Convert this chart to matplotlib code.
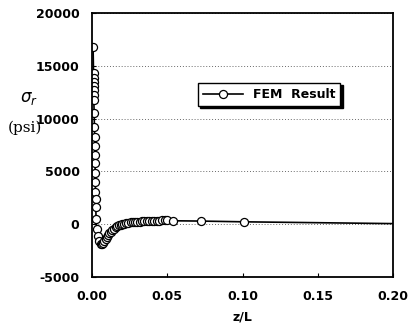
import matplotlib.pyplot as plt

# FEM result: radial stress vs z/L
zL = [0.0007, 0.0010, 0.0010, 0.0010, 0.0011, 0.0011, 0.0012, 0.0012,
      0.0014, 0.0016, 0.0017, 0.0018, 0.0019, 0.0020, 0.0021, 0.0022,
      0.0023, 0.0024, 0.0025, 0.0027, 0.0031, 0.0038, 0.0047, 0.0058,
      0.0066, 0.0074, 0.0082, 0.0090, 0.0098, 0.0107, 0.0116, 0.0125,
      0.0135, 0.0145, 0.0156, 0.0167, 0.0178, 0.0190, 0.0202, 0.0215,
      0.0228, 0.0242, 0.0256, 0.0270, 0.0285, 0.0300, 0.0316, 0.0332,
      0.0348, 0.0364, 0.0380, 0.0397, 0.0414, 0.0431, 0.0448, 0.0465,
      0.0482, 0.0500, 0.0536, 0.0724, 0.1010, 0.2000]
sigma_r = [16800, 14300, 13900, 13500, 13100, 12700, 12200, 11800,
           10500, 9250, 8300, 7400, 6600, 5800, 4900, 4050,
           3100, 2350, 1600, 470, -470, -1130, -1600, -1900,
           -1880, -1760, -1600, -1420, -1230, -1040, -860, -700,
           -550, -420, -300, -200, -110, -40, 20, 70,
           110, 145, 175, 200, 220, 240, 255, 270,
           285, 300, 310, 320, 330, 340, 350, 360,
           375, 390, 330, 300, 230, 60]

xticks = [0.00, 0.05, 0.10, 0.15, 0.20]
yticks = [-5000, 0, 5000, 10000, 15000, 20000]

fig = plt.figure(figsize=(4.09, 3.29), dpi=100)
ax = fig.add_axes([0.225, 0.158, 0.736, 0.802])

ax.plot(zL, sigma_r, color='black', lw=1.2, marker='o', ms=5.8,
        mfc='white', mec='black', mew=0.9, markevery=list(range(len(zL) - 1)),
        label='FEM  Result')

ax.set_xlim(0, 0.2)
ax.set_ylim(-5000, 20000)
ax.set_xticks(xticks)
ax.set_yticks(yticks)
ax.set_xticklabels(['%.2f' % v for v in xticks])
ax.set_yticklabels([str(v) for v in yticks])
ax.tick_params(direction='in', length=3, pad=9, labelsize=9)
for lab in ax.get_xticklabels() + ax.get_yticklabels():
    lab.set_fontweight('bold')
ax.grid(axis='y', linestyle=(0, (1, 2)), color='dimgray', lw=0.7)
for s in ax.spines.values():
    s.set_linewidth(1.3)

ax.set_xlabel('z/L', fontsize=9, fontweight='bold', labelpad=6)

fig.text(0.048, 0.69, r'$\sigma_r$', fontsize=12, family='serif')
fig.text(0.018, 0.6, '(psi)', fontsize=11, family='serif')

leg = ax.legend(loc='upper left', bbox_to_anchor=(0.352, 0.735), frameon=True,
                borderaxespad=0, fancybox=False, edgecolor='black',
                handlelength=3.2, prop={'weight': 'bold', 'size': 9},
                shadow={'color': 'black', 'alpha': 1, 'ox': 1.6, 'oy': -1.6})
leg.get_frame().set_linewidth(1.0)

fig.savefig('out.png', dpi=100)
